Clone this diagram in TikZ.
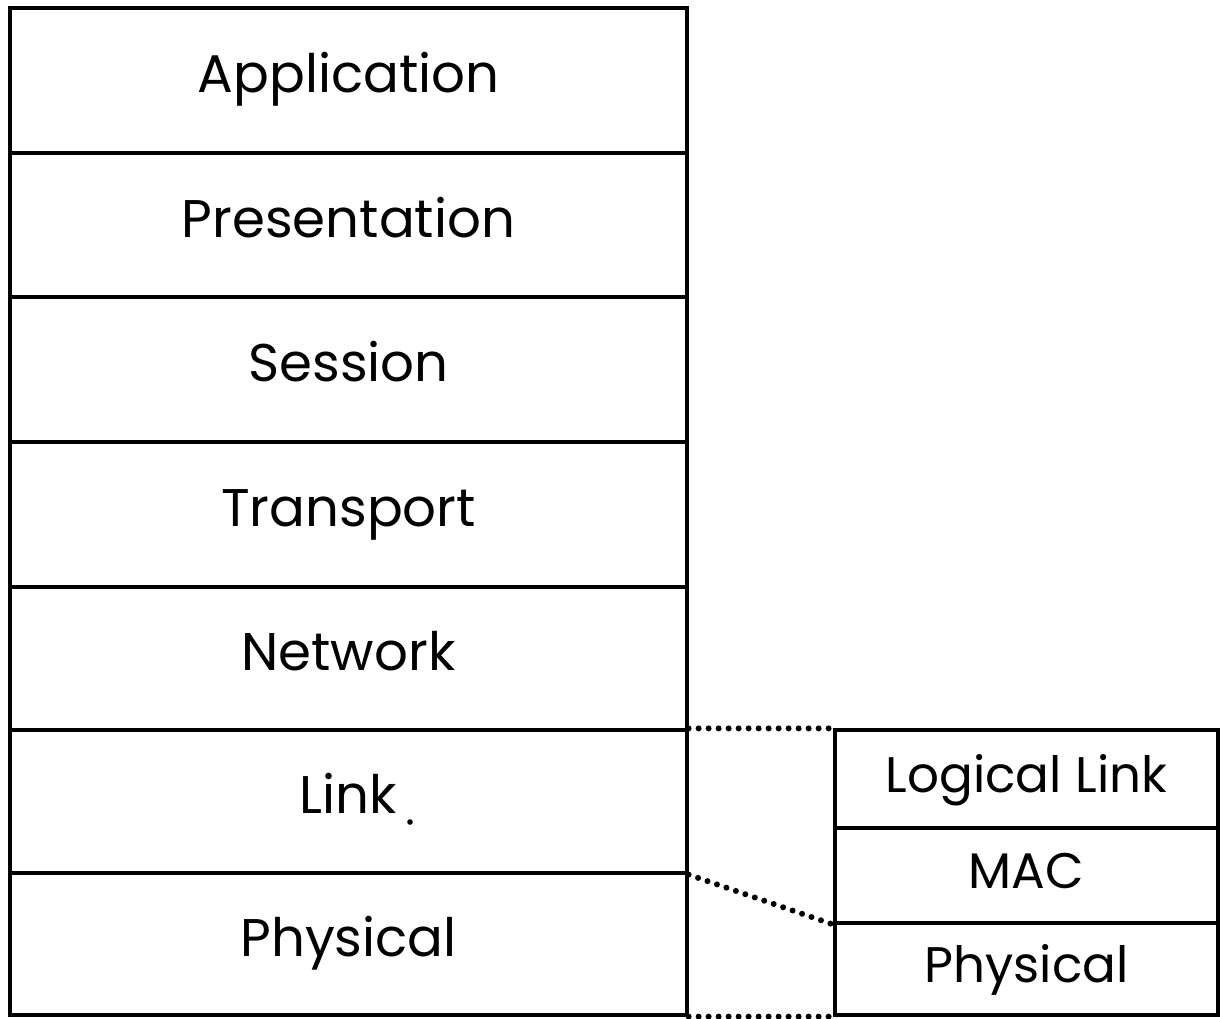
\documentclass[tikz,border=0pt]{standalone}
\usepackage{fontspec}
\setmainfont{Poppins}
\begin{document}
\begin{tikzpicture}[x=1pt,y=-1pt,
  layer/.style={draw,line width=3.2pt,minimum width=677pt,inner sep=0pt,text height=38pt,text depth=14pt,font=\fontsize{53}{60}\selectfont},
  sublayer/.style={draw,line width=3.2pt,minimum width=383pt,inner sep=0pt,text height=38pt,text depth=12pt,font=\fontsize{50}{58}\selectfont},
  dotline/.style={line width=6pt,line cap=round,dash pattern=on 0pt off 10pt}]
\useasboundingbox (0,0) rectangle (1220,1018);
\node[layer,minimum height=145pt] (app) at (348.5,80.5) {Application};
\node[layer,minimum height=144pt] (pres) at (348.5,225) {Presentation};
\node[layer,minimum height=145pt] (sess) at (348.5,369.5) {Session};
\node[layer,minimum height=145pt] (trans) at (348.5,514.5) {Transport};
\node[layer,minimum height=143pt] (net) at (348.5,658.5) {Network};
\node[layer,minimum height=143pt] (link) at (348.5,801.5) {Link};
\node[layer,minimum height=142pt] (phys) at (348.5,944) {Physical};
\fill (410,822) circle (2.8pt);
\node[sublayer,minimum height=98pt] (llc) at (1026.5,779) {Logical Link};
\node[sublayer,minimum height=95pt] (mac) at (1026.5,875.5) {MAC};
\node[sublayer,minimum height=92pt] (phy2) at (1026.5,969) {Physical};
\draw[dotline] (link.north east) -- (llc.north west);
\draw[dotline] (link.south east) -- (mac.south west);
\draw[dotline] (phys.south east) -- (phy2.south west);
\end{tikzpicture}
\end{document}
